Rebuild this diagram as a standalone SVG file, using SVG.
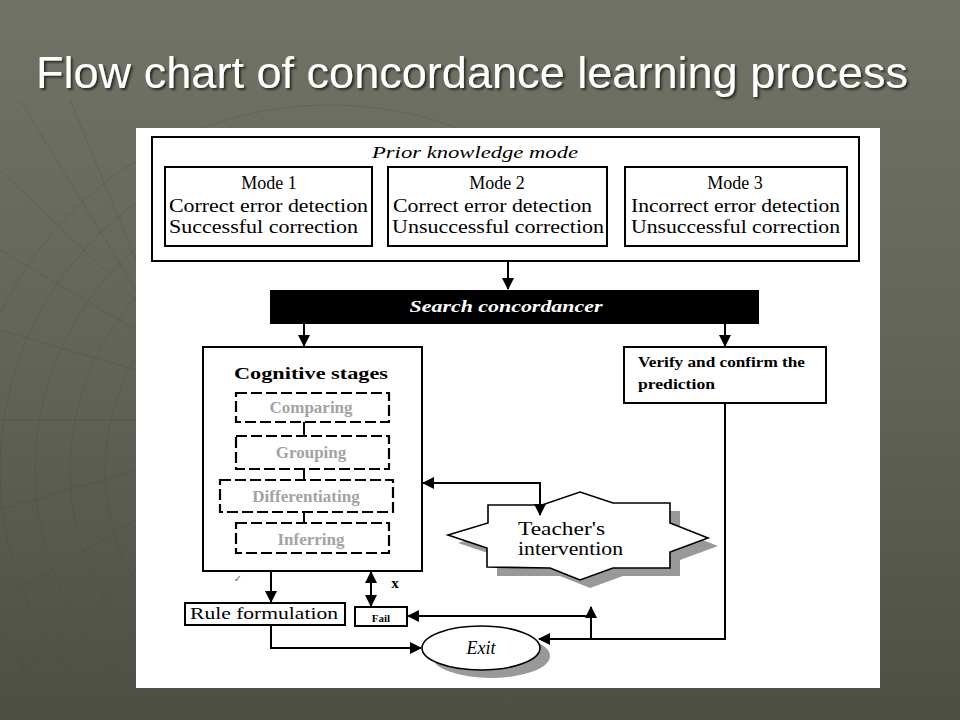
<svg xmlns="http://www.w3.org/2000/svg" width="960" height="720" viewBox="0 0 960 720">
<defs>
<linearGradient id="bg" x1="0" y1="0" x2="0" y2="1">
<stop offset="0" stop-color="#717366"/>
<stop offset="0.5" stop-color="#626458"/>
<stop offset="1" stop-color="#4d4f45"/>
</linearGradient>
<filter id="shadow" x="-5%" y="-30%" width="110%" height="160%">
<feDropShadow dx="2" dy="2" stdDeviation="1" flood-color="#1a1a16" flood-opacity="0.85"/>
</filter>
<marker id="ah" viewBox="0 0 12 12" refX="11" refY="6" markerWidth="12" markerHeight="12" markerUnits="userSpaceOnUse" orient="auto-start-reverse">
<path d="M0,0 L12,6 L0,12 Z" fill="#000"/>
</marker>
<clipPath id="leftclip"><rect x="0" y="100" width="136" height="620"/><rect x="0" y="100" width="960" height="28"/></clipPath>
</defs>
<style>
.box{fill:#fff;stroke:#000;stroke-width:2}
.dash{fill:#fff;stroke:#000;stroke-width:2.2;stroke-dasharray:11 4}
.conn{fill:none;stroke:#000;stroke-width:2}
.t{font-family:"Liberation Serif","Times New Roman",serif;fill:#000}
.g{font-family:"Liberation Serif","Times New Roman",serif;fill:#a3a3a3;font-weight:bold;font-size:17px}
.deco{fill:none;stroke:#3f4238;stroke-opacity:0.22;stroke-width:1}
</style>

<rect x="0" y="0" width="960" height="720" fill="url(#bg)"/>
<g id="decoration" clip-path="url(#leftclip)">
<circle class="deco" cx="330" cy="470" r="190"/>
<circle class="deco" cx="330" cy="470" r="225"/>
<circle class="deco" cx="330" cy="470" r="260"/>
<circle class="deco" cx="330" cy="470" r="295"/>
<circle class="deco" cx="330" cy="470" r="330"/>
<circle class="deco" cx="330" cy="470" r="365"/>
<path class="deco" d="M0,170 L136,300 M0,250 L136,330 M0,330 L136,370 M0,420 L136,420 M0,510 L136,470 M0,600 L136,520 M0,690 L136,570 M20,100 L136,290 M70,100 L136,260"/>
</g>

<g id="title">
<text x="36" y="88" font-family="'Liberation Sans',Arial,sans-serif" font-size="44" fill="#fff" textLength="872" lengthAdjust="spacingAndGlyphs" filter="url(#shadow)">Flow chart of concordance learning process</text>
</g>

<rect id="panel" x="136" y="128" width="744" height="560" fill="#fff"/>

<g id="prior-knowledge">
<rect class="box" x="152" y="137" width="707" height="124"/>
<text class="t" x="475" y="158" font-size="16" font-style="italic" text-anchor="middle" textLength="206" lengthAdjust="spacingAndGlyphs">Prior knowledge mode</text>
</g>
<g id="mode1">
<rect class="box" x="165" y="167" width="207" height="79"/>
<text class="t" x="269" y="189" font-size="18" text-anchor="middle">Mode 1</text>
<text class="t" x="169" y="212" font-size="18" textLength="199" lengthAdjust="spacingAndGlyphs">Correct error detection</text>
<text class="t" x="169" y="233" font-size="18" textLength="189" lengthAdjust="spacingAndGlyphs">Successful correction</text>
</g>
<g id="mode2">
<rect class="box" x="388" y="167" width="219" height="79"/>
<text class="t" x="497" y="189" font-size="18" text-anchor="middle">Mode 2</text>
<text class="t" x="393" y="212" font-size="18" textLength="199" lengthAdjust="spacingAndGlyphs">Correct error detection</text>
<text class="t" x="392" y="233" font-size="18" textLength="212" lengthAdjust="spacingAndGlyphs">Unsuccessful correction</text>
</g>
<g id="mode3">
<rect class="box" x="625" y="167" width="222" height="79"/>
<text class="t" x="735" y="189" font-size="18" text-anchor="middle">Mode 3</text>
<text class="t" x="631" y="212" font-size="18" textLength="209" lengthAdjust="spacingAndGlyphs">Incorrect error detection</text>
<text class="t" x="631" y="233" font-size="18" textLength="209" lengthAdjust="spacingAndGlyphs">Unsuccessful correction</text>
</g>

<g id="search">
<rect x="270" y="290" width="489" height="34" fill="#000"/>
<text x="506" y="312" font-family="'Liberation Serif','Times New Roman',serif" font-size="16" font-style="italic" font-weight="bold" fill="#fff" text-anchor="middle" textLength="193" lengthAdjust="spacingAndGlyphs">Search concordancer</text>
</g>

<g id="cognitive">
<rect class="box" x="203" y="347" width="219" height="224"/>
<text class="t" x="311" y="379" font-size="16" font-weight="bold" text-anchor="middle" fill="#333" textLength="154" lengthAdjust="spacingAndGlyphs">Cognitive stages</text>
<path class="conn" d="M304,422 V436 M304,469 V480 M304,512 V523"/>
<g id="comparing">
<rect class="dash" x="236" y="393" width="153" height="29"/>
<text class="g" x="311" y="413" text-anchor="middle">Comparing</text>
</g>
<g id="grouping">
<rect class="dash" x="236" y="436" width="153" height="33"/>
<text class="g" x="311" y="458" text-anchor="middle">Grouping</text>
</g>
<g id="differentiating">
<rect class="dash" x="220" y="480" width="173" height="32" stroke-width="3"/>
<text class="g" x="306" y="502" text-anchor="middle">Differentiating</text>
</g>
<g id="inferring">
<rect class="dash" x="236" y="523" width="153" height="30"/>
<text class="g" x="311" y="545" text-anchor="middle">Inferring</text>
</g>
</g>

<g id="verify">
<rect class="box" x="624" y="347" width="202" height="56"/>
<text class="t" x="638" y="367" font-size="14" font-weight="bold" textLength="167" lengthAdjust="spacingAndGlyphs">Verify and confirm the</text>
<text class="t" x="638" y="389" font-size="14" font-weight="bold" textLength="77" lengthAdjust="spacingAndGlyphs">prediction</text>
</g>

<g id="teacher">
<path d="M590,500 L623,511 L680,511 L680,531 L718,546 L680,560 L680,576 L623,576 L590,588 L560,576 L497,576 L497,556 L458,543 L498,531 L498,513 L552,513 Z" fill="#999"/>
<path d="M580,492 L613,503 L670,503 L670,523 L708,538 L670,552 L670,568 L613,568 L580,580 L550,568 L487,567 L487,548 L448,535 L488,523 L488,505 L542,505 Z" fill="#fff" stroke="#000" stroke-width="1.6"/>
<text class="t" x="518" y="535" font-size="18" textLength="87" lengthAdjust="spacingAndGlyphs">Teacher's</text>
<text class="t" x="518" y="555" font-size="18" textLength="105" lengthAdjust="spacingAndGlyphs">intervention</text>
</g>

<g id="rule">
<rect class="box" x="185" y="603" width="160" height="22"/>
<text class="t" x="190" y="619" font-size="17" textLength="148" lengthAdjust="spacingAndGlyphs">Rule formulation</text>
</g>

<g id="fail">
<rect class="box" x="355" y="607" width="52" height="19"/>
<text class="t" x="381" y="622" font-size="11" font-weight="bold" text-anchor="middle">Fail</text>
</g>

<g id="exit">
<ellipse cx="491" cy="656" rx="59" ry="22" fill="#999"/>
<ellipse cx="481" cy="648" rx="59" ry="22" fill="#fff" stroke="#000" stroke-width="1.6"/>
<text class="t" x="481" y="654" font-size="18" font-style="italic" text-anchor="middle">Exit</text>
</g>

<g id="labels">
<text x="238" y="582" font-family="'DejaVu Sans',sans-serif" font-size="10" fill="#666" text-anchor="middle">✓</text>
<text class="t" x="395" y="588" font-size="15" font-weight="bold" text-anchor="middle">x</text>
</g>

<g id="connectors">
<path class="conn" d="M508,261 V289" marker-end="url(#ah)"/>
<path class="conn" d="M304,324 V346" marker-end="url(#ah)"/>
<path class="conn" d="M725,324 V346" marker-end="url(#ah)"/>
<path class="conn" d="M423,483 H540 V515" marker-start="url(#ah)" marker-end="url(#ah)"/>
<path class="conn" d="M271,571 V602" marker-end="url(#ah)"/>
<path class="conn" d="M371,572 V606" marker-start="url(#ah)" marker-end="url(#ah)"/>
<path class="conn" d="M271,625 V648 H421" marker-end="url(#ah)"/>
<path class="conn" d="M725,403 V639 H539" marker-end="url(#ah)"/>
<path class="conn" d="M591,639 V607" marker-end="url(#ah)"/>
<path class="conn" d="M591,616 H408" marker-end="url(#ah)"/>
</g>
</svg>
